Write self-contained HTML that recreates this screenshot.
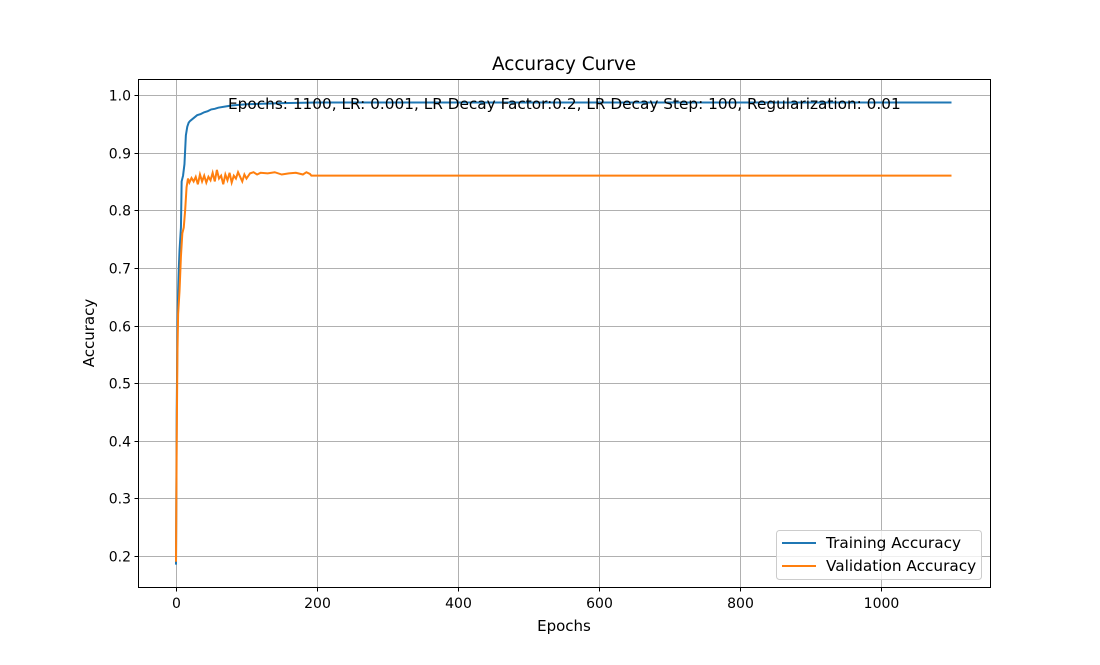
<!DOCTYPE html>
<html><head><meta charset="utf-8"><style>
body{margin:0;background:#fff;}
svg text{font-family:"DejaVu Sans","Liberation Sans",sans-serif;fill:#000;}
</style></head><body>
<svg id="chart" width="1100" height="660" xmlns="http://www.w3.org/2000/svg">
<rect width="1100" height="660" fill="#fff"/>
<g id="grid"></g>
<g id="series"></g>
<rect x="138.5" y="79.5" width="852" height="508" fill="none" stroke="#000" stroke-width="1"/>
<g id="ticks"></g>
<text x="564" y="70" text-anchor="middle" font-size="18.4">Accuracy Curve</text>
<text x="564" y="631" text-anchor="middle" font-size="15">Epochs</text>
<text transform="translate(94,333) rotate(-90)" text-anchor="middle" font-size="15">Accuracy</text>
<text x="228" y="109" font-size="15.3">Epochs: 1100, LR: 0.001, LR Decay Factor:0.2, LR Decay Step: 100, Regularization: 0.01</text>
<g>
<rect x="776.5" y="530.5" width="205" height="49" rx="3" fill="#fff" fill-opacity="0.8" stroke="#ccc"/>
<line x1="782" y1="543" x2="816" y2="543" stroke="#1f77b4" stroke-width="2"/>
<text x="826" y="548" font-size="15.3">Training Accuracy</text>
<line x1="782" y1="566" x2="816" y2="566" stroke="#ff7f0e" stroke-width="2"/>
<text x="826" y="571" font-size="15.3">Validation Accuracy</text>
</g>
</svg>
<script>
const trainEpochs=[0,1,2,3,4,5,6,7,8,9,10,12,14,16,18,20,25,30,35,40,45,50,55,60,70,80,100,150,200,1100];
const trainValues=[0.185,0.45,0.58,0.66,0.70,0.73,0.75,0.77,0.85,0.855,0.86,0.88,0.93,0.945,0.952,0.955,0.96,0.965,0.967,0.97,0.972,0.975,0.976,0.978,0.98,0.982,0.984,0.986,0.987,0.987];
const valEpochs=[0,1,2,3,5,7,9,11,13,15,17,19,22,25,28,31,34,37,40,43,46,49,52,55,58,61,64,67,70,73,76,79,82,85,88,91,94,97,100,105,110,115,120,130,140,150,160,170,180,185,190,192,1100];
const valValues=[0.19,0.40,0.55,0.62,0.66,0.72,0.76,0.77,0.80,0.84,0.855,0.848,0.856,0.85,0.858,0.845,0.862,0.85,0.86,0.848,0.858,0.852,0.865,0.85,0.87,0.855,0.86,0.845,0.862,0.852,0.865,0.848,0.86,0.855,0.866,0.858,0.85,0.862,0.855,0.864,0.866,0.862,0.865,0.864,0.866,0.862,0.864,0.865,0.862,0.866,0.863,0.86,0.86];
const xTicks=[0,200,400,600,800,1000];
const yTicks=[0.2,0.3,0.4,0.5,0.6,0.7,0.8,0.9,1.0];
const NS="http://www.w3.org/2000/svg";
const xs=e=>176+e*(775.5/1100);
const ys=v=>95+(1.0-v)*576.25;
const grid=document.getElementById('grid'),ticks=document.getElementById('ticks'),ser=document.getElementById('series');
function mk(tag,attrs,parent){const el=document.createElementNS(NS,tag);for(const k in attrs)el.setAttribute(k,attrs[k]);parent.appendChild(el);return el;}
xTicks.forEach(t=>{const x=Math.round(xs(t))+0.5;
 const g=mk('line',{x1:x,x2:x,y1:79.5,y2:587.5,stroke:'#b0b0b0','stroke-width':1},grid);
 
 
 mk('line',{x1:x,x2:x,y1:587.5,y2:591.5,stroke:'#000'},ticks);
 const tx=mk('text',{x:x,y:608,'text-anchor':'middle','font-size':'14'},ticks);tx.textContent=t;
 
 });
yTicks.forEach(t=>{const y=Math.round(ys(t))+0.5;
 const g=mk('line',{x1:138.5,x2:990.5,y1:y,y2:y,stroke:'#b0b0b0','stroke-width':1},grid);
 
 
 mk('line',{x1:134.5,x2:138.5,y1:y,y2:y,stroke:'#000'},ticks);
 const tx=mk('text',{x:131,y:y+5,'text-anchor':'end','font-size':'14'},ticks);tx.textContent=t.toFixed(1);
 
 });
function line(ep,vals,color,name){const d=ep.map((e,i)=>(i?'L':'M')+xs(e).toFixed(2)+','+ys(vals[i]).toFixed(2)).join('');
 const p=mk('path',{d:d,fill:'none',stroke:color,'stroke-width':2},ser);
 
 }
line(trainEpochs,trainValues,'#1f77b4','training-accuracy-line');
line(valEpochs,valValues,'#ff7f0e','validation-accuracy-line');
</script>
</body></html>
